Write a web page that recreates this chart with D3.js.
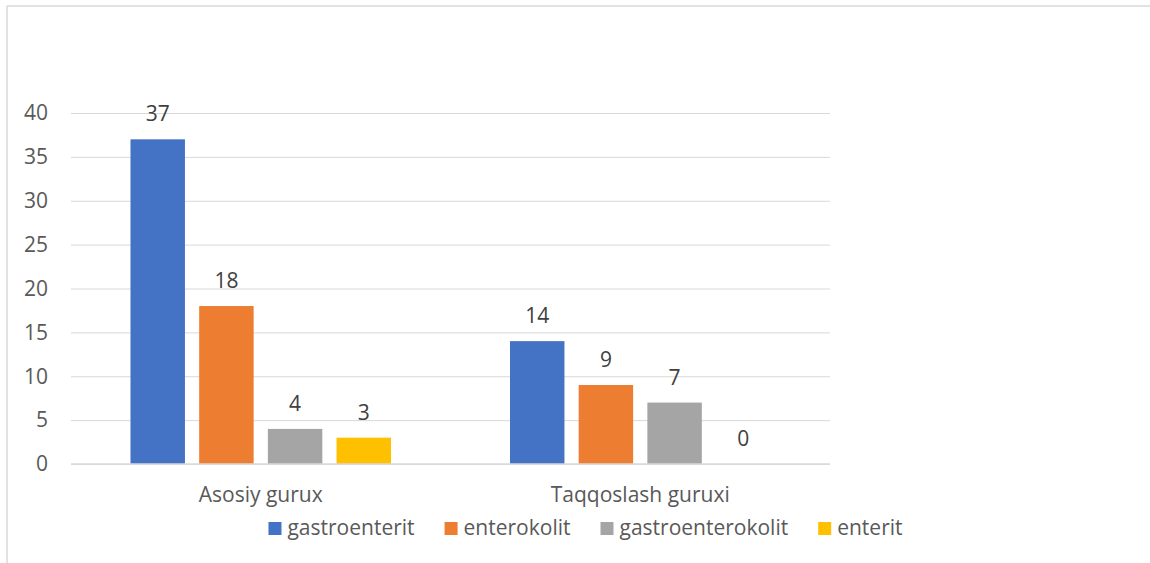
<!DOCTYPE html>
<html><head><meta charset="utf-8">
<script src="https://cdn.jsdelivr.net/npm/d3@7"></script>
<style>
html,body{margin:0;padding:0;background:#fff;}
svg{display:block;font-family:"Open Sans",sans-serif;}
</style></head>
<body>
<svg id="chart" width="1150" height="563"></svg>
<script>
const categories = ["Asosiy gurux", "Taqqoslash guruxi"];
const seriesNames = ["gastroenterit", "enterokolit", "gastroenterokolit", "enterit"];
const gastroenterit = [37, 14];
const enterokolit = [18, 9];
const gastroenterokolit = [4, 7];
const enterit = [3, 0];
const yTicks = [0, 5, 10, 15, 20, 25, 30, 35, 40];
const colors = ["#4472C4", "#ED7D31", "#A5A5A5", "#FFC000"];

const seriesValues = [gastroenterit, enterokolit, gastroenterokolit, enterit];
const svg = d3.select("#chart");
const FS = 21;

// outer frame (only top and left visible)
svg.append("line").attr("x1",7).attr("x2",1150).attr("y1",6).attr("y2",6).attr("stroke","#d9d9d9").attr("stroke-width",1.5);
svg.append("line").attr("x1",7).attr("x2",7).attr("y1",6).attr("y2",563).attr("stroke","#d9d9d9").attr("stroke-width",1.5);

const pLeft = 71, pRight = 830, pTop = 113, pBottom = 464;
const x0 = d3.scaleBand().domain(categories).range([pLeft, pRight]).paddingInner(0).paddingOuter(0);
const x1 = d3.scaleBand().domain(seriesNames).range([0, x0.bandwidth()]).paddingInner(0.207).paddingOuter(0.866);
const y = d3.scaleLinear().domain([0, 40]).range([pBottom, pTop]);

// gridlines
const grid = svg.append("g").attr("transform", `translate(${pLeft},0)`)
  .call(d3.axisLeft(y).tickValues(yTicks).tickSize(-(pRight-pLeft)).tickFormat(""));
grid.select(".domain").remove();
grid.selectAll("line").attr("stroke", "#d9d9d9").attr("stroke-width", 1);

// y tick labels
svg.append("g").selectAll("text").data(yTicks).join("text")
  .attr("x", 48).attr("y", d => y(d)).attr("dy", "0.35em")
  .attr("text-anchor", "end").attr("font-size", FS).attr("fill", "#595959")
  .text(d => d);

// bars
const groups = svg.append("g").selectAll("g").data(categories).join("g")
  .attr("transform", d => `translate(${x0(d)},0)`);
groups.selectAll("rect").data((c, ci) => seriesNames.map((s, si) => ({s, si, v: seriesValues[si][ci]})))
  .join("rect")
  .attr("x", d => x1(d.s)).attr("width", x1.bandwidth())
  .attr("y", d => y(d.v)).attr("height", d => y(0) - y(d.v))
  .attr("fill", d => colors[d.si]);
groups.selectAll("text").data((c, ci) => seriesNames.map((s, si) => ({s, si, v: seriesValues[si][ci]})))
  .join("text")
  .attr("x", d => x1(d.s) + x1.bandwidth()/2).attr("y", d => y(d.v) - 18)
  .attr("text-anchor", "middle").attr("font-size", FS).attr("fill", "#404040")
  .text(d => d.v);

// x axis baseline
svg.append("line").attr("x1", pLeft).attr("x2", pRight).attr("y1", y(0)).attr("y2", y(0)).attr("stroke", "#d9d9d9").attr("stroke-width", 1.5);

// category labels
svg.append("g").selectAll("text").data(categories).join("text")
  .attr("x", d => x0(d) + x0.bandwidth()/2).attr("y", 502)
  .attr("text-anchor", "middle").attr("font-size", FS).attr("fill", "#595959")
  .text(d => d);

// legend
const leg = svg.append("g");
const items = leg.selectAll("g").data(seriesNames).join("g");
items.append("rect").attr("width", 13).attr("height", 13).attr("y", -13).attr("fill", (d,i) => colors[i]);
items.append("text").attr("x", 19).attr("y", 0).attr("font-size", FS).attr("fill", "#595959").text(d => d);
let cx = 0;
items.each(function() {
  const g = d3.select(this);
  g.attr("transform", `translate(${cx},0)`);
  cx += 19 + g.select("text").node().getComputedTextLength() + 30;
});
const total = cx - 30;
leg.attr("transform", `translate(${585.5 - total/2},535)`);
</script>
</body></html>
